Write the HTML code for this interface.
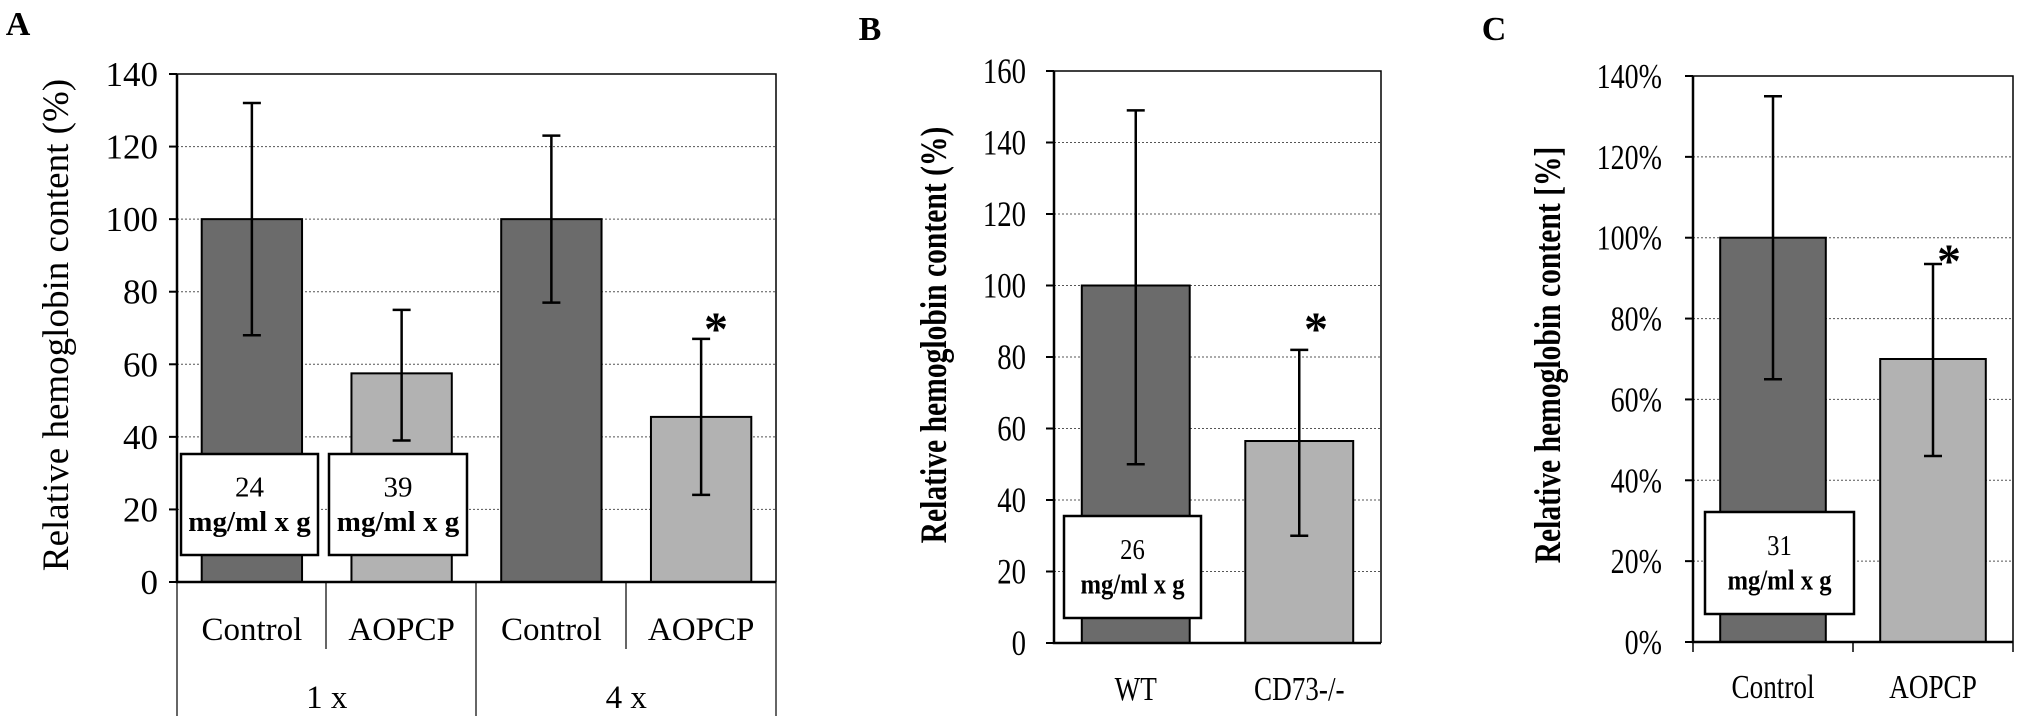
<!DOCTYPE html>
<html><head><meta charset="utf-8"><style>
body{margin:0;background:#fff}
svg{display:block;font-family:"Liberation Serif",serif}
</style></head><body>
<svg id="c" width="2031" height="726" viewBox="0 0 2031 726" xmlns="http://www.w3.org/2000/svg">
<rect width="2031" height="726" fill="#fff"/>
</svg>
<script>
// Panel A data
const aCategories=["Control","AOPCP","Control","AOPCP"];
const aGroups=["1 x","4 x"];
const aValues=[100,57.5,100,45.5];
const aErrHi=[132,75,123,67];
const aErrLo=[68,39,77,24];
const aTicks=[0,20,40,60,80,100,120,140];
// Panel B data
const bCategories=["WT","CD73-/-"];
const bValues=[100,56.5];
const bErrHi=[149,82];
const bErrLo=[50,30];
const bTicks=[0,20,40,60,80,100,120,140,160];
// Panel C data
const cCategories=["Control","AOPCP"];
const cValues=[100,70];
const cErrHi=[135,93.5];
const cErrLo=[65,46];
const cTicks=[0,20,40,60,80,100,120,140];

const svg=document.getElementById('c');
const NS="http://www.w3.org/2000/svg";
function mk(tag,attrs,parent){const e=document.createElementNS(NS,tag);for(const k in attrs)e.setAttribute(k,attrs[k]);(parent||svg).appendChild(e);return e;}
function txt(s,x,y,size,anchor,parent,extra,sx){
  const a=Object.assign({x:sx?0:x,y:sx?0:y,'font-size':size,'text-anchor':anchor||'middle',fill:'#000'},extra||{});
  if(sx)a.transform=`translate(${x},${y}) scale(${sx},1)`;
  const t=mk('text',a,parent);t.textContent=s;return t;}
const DARK="#6b6b6b",LIGHT="#b2b2b2";

function panel(cfg){
  const g=mk('g',{});
  
  
  const x0=cfg.left,x1=cfg.right,y0=cfg.zero,yt=cfg.top,max=cfg.max;
  const yS=v=>y0-(v/max)*(y0-yt);
  cfg.ticks.forEach(t=>{
    if(t>0&&t<max){const l=mk('line',{x1:x0,x2:x1,y1:yS(t),y2:yS(t),stroke:'#555','stroke-width':1,'stroke-dasharray':'2,2'},g);
      }
    const tk=mk('line',{x1:x0-8,x2:x0,y1:yS(t),y2:yS(t),stroke:'#000','stroke-width':2},g);
    
    const lb=txt(cfg.fmt(t),cfg.tickRight,yS(t)+12,cfg.tickSize,'end',g,{},cfg.sx);
    
  });
  const n=cfg.values.length,w=(x1-x0)/n;
  cfg.values.forEach((v,i)=>{
    const cx=x0+w*(i+0.5),bw=w*cfg.barFrac;
    const r=mk('rect',{x:cx-bw/2,y:yS(v),width:bw,height:y0-yS(v),fill:i%2?LIGHT:DARK,stroke:'#000','stroke-width':2},g);
    
    
    const eb=mk('path',{d:`M${cx},${yS(cfg.hi[i])}V${yS(cfg.lo[i])}M${cx-9},${yS(cfg.hi[i])}H${cx+9}M${cx-9},${yS(cfg.lo[i])}H${cx+9}`,stroke:'#000','stroke-width':2.5,fill:'none'},g);
    
  });
  const ax=mk('path',{d:`M${x0},${yt}V${y0}H${x1}`,stroke:'#000','stroke-width':2.5,fill:'none'},g);
  
  const fr=mk('path',{d:`M${x0},${yt}H${x1}V${y0}`,stroke:'#000','stroke-width':1.5,fill:'none'},g);
  
  const yt2=txt(cfg.ytitle,0,0,cfg.titleSize,'middle',g,cfg.titleBold?{'font-weight':'bold'}:{});
  yt2.setAttribute('transform',`translate(${cfg.titleX},${cfg.titleY}) rotate(-90) scale(${cfg.sx||1},1)`);
  
  return {g,yS,w};
}

const A=panel({name:'panel-a',left:177,right:776,zero:582,top:74,max:140,ticks:aTicks,values:aValues,hi:aErrHi,lo:aErrLo,cats:aCategories,barFrac:0.67,
  fmt:t=>String(t),tickRight:158,tickSize:35,ytitle:'Relative hemoglobin content (%)',titleSize:37,titleX:68,titleY:325});
(function(){
  const g=A.g;
  const l=mk('path',{d:'M177,582V716M326,582V649M476,582V716M626,582V649M776,582V716',stroke:'#000','stroke-width':1.2,fill:'none'},g);
  
  aCategories.forEach((c,i)=>{const t=txt(c,177+A.w*(i+0.5),640,33,'middle',g);
    });
  aGroups.forEach((c,i)=>{const t=txt(c,177+A.w*(2*i+1),708,33,'middle',g);
    });
})();
const B=panel({name:'panel-b',left:1054,right:1381,zero:643,top:71,max:160,ticks:bTicks,values:bValues,hi:bErrHi,lo:bErrLo,cats:bCategories,barFrac:0.66,
  fmt:t=>String(t),tickRight:1026,tickSize:36,sx:0.8,ytitle:'Relative hemoglobin content (%)',titleSize:37,titleBold:true,titleX:946,titleY:335});
bCategories.forEach((c,i)=>{const t=txt(c,1054+B.w*(i+0.5),700,34,'middle',B.g,{},0.8);
  });
const C=panel({name:'panel-c',left:1693,right:2013,zero:642,top:76,max:140,ticks:cTicks,values:cValues,hi:cErrHi,lo:cErrLo,cats:cCategories,barFrac:0.66,
  fmt:t=>t+'%',tickRight:1662,tickSize:35,sx:0.8,ytitle:'Relative hemoglobin content [%]',titleSize:37,titleBold:true,titleX:1560,titleY:355});
(function(){
  const t=mk('path',{d:'M1693,642V652M1853,642V652M2013,642V652',stroke:'#000','stroke-width':1.5},C.g);
  
  cCategories.forEach((c,i)=>{const l=txt(c,1693+C.w*(i+0.5),698,34,'middle',C.g,{},0.8);
    });
})();

function box(x,y,w,h,num,name,sx){
  const g=mk('g',{});
  
  
  mk('rect',{x:x,y:y,width:w,height:h,fill:'#fff',stroke:'#000','stroke-width':2.5},g);
  txt(num,x+w/2,y+h*0.42,29,'middle',g,{},sx);
  txt('mg/ml  x g',x+w/2,y+h*0.76,29,'middle',g,{'font-weight':'bold'},sx);
}
box(181,454,137,101,'24','annotation-box-24');
box(329,454,138,101,'39','annotation-box-39');
box(1064,516,137,102,'26','annotation-box-26',0.85);
box(1705,512,149,102,'31','annotation-box-31',0.85);

[[716,345],[1316,345],[1949,277]].forEach(p=>{const s=txt('*',p[0],p[1],48,'middle',null,{'font-weight':'bold'});
  });

[['A',18,35],['B',870,40],['C',1494,40]].forEach(p=>{const s=txt(p[0],p[1],p[2],34,'middle',null,{'font-weight':'bold'});
  });
</script>
</body></html>
